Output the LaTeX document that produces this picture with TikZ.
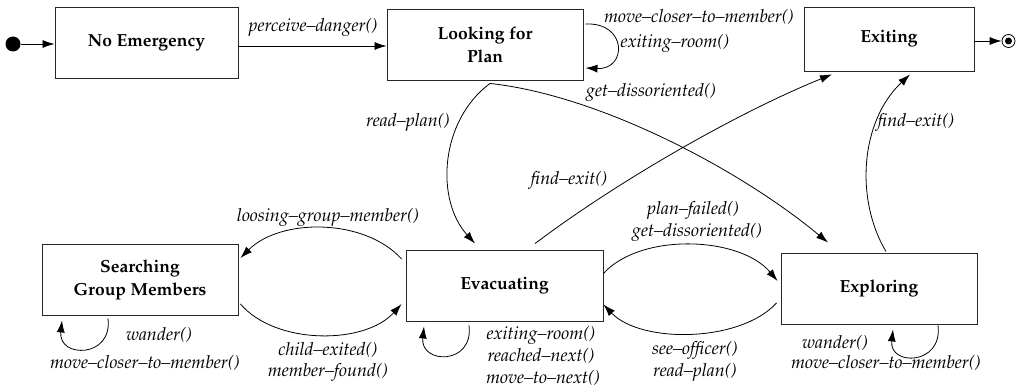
\documentclass[tikz,border=0pt]{standalone}
\usepackage[T1]{fontenc}
\usepackage{mathpazo}
\usetikzlibrary{arrows.meta}
\begin{document}
\begin{tikzpicture}[x=1pt,y=-1pt,
  state/.style={draw=black!85, line width=0.9pt, align=center, inner sep=0pt,
    font=\bfseries\fontsize{17.5}{23}\selectfont},
  lbl/.style={font=\itshape\fontsize{18}{22}\selectfont, inner sep=0pt},
  arr/.style={-{Latex[length=12pt,width=8pt]}, line width=0.8pt},
  ln/.style={line width=0.8pt}]
\useasboundingbox (0,0) rectangle (1016,390);
% states
\node[state, minimum width=183, minimum height=71] (ne) at (146.5,42.5) {No Emergency};
\node[state, minimum width=196, minimum height=71] (lp) at (485,44.5) {Looking for\\Plan};
\node[state, minimum width=170, minimum height=64] (ex) at (889,39) {Exiting};
\node[state, minimum width=196, minimum height=71] (sg) at (140,279.5) {Searching\\Group Members};
\node[state, minimum width=197, minimum height=71] (ev) at (504.5,285.5) {Evacuating};
\node[state, minimum width=196, minimum height=71] (xp) at (879,288.5) {Exploring};
% initial and final
\node[circle, fill, minimum size=15, inner sep=0pt] (init) at (13,44) {};
\node[circle, draw, line width=0.8pt, minimum size=13, inner sep=0pt] (fin) at (1008.5,41) {};
\node[circle, fill, minimum size=7, inner sep=0pt] (fin2) at (fin) {};
\draw[arr] (init) -- (ne.west |- init);
\draw[arr] (ex.east |- fin) -- (fin.west);
% top
\draw[arr] (ne.east |- 0,46) -- (lp.west |- 0,46);
\node[lbl] (l1) at (313,27) {perceive--danger()};
\draw[arr] ([shift={(2,-20.5)}]lp.east) .. controls +(42,-2) and +(42,2) .. ([shift={(2,23.5)}]lp.east);
\node[lbl] (l2) at (699,17) {move--closer--to--member()};
\node[lbl] (l3) at (675,43) {exiting--room()};
% read-plan
\draw[arr] ([shift={(5,3)}]lp.south) .. controls +(-50,37) and +(-40,-44) .. ([shift={(-29.5,-6)}]ev.north);
\node[lbl] (l4) at (408,122) {read--plan()};
% get-dissoriented
\draw[arr] ([shift={(5,3)}]lp.south) .. controls +(110,12) and +(-88,-73) .. ([shift={(-51,-10)}]xp.north);
\node[lbl] (l5) at (651,92) {get--dissoriented()};
% find-exit evac
\draw[arr] ([shift={(30.5,-6)}]ev.north) .. controls +(85,-64) and +(-92,37) .. ([shift={(-57,3)}]ex.south);
\node[lbl] (l6) at (569,180) {find--exit()};
% find-exit exploring
\draw[arr] ([shift={(7,-1)}]xp.north) .. controls +(-31,-52) and +(-50,47) .. ([shift={(21,3)}]ex.south);
\node[lbl] (l7) at (916,122) {find--exit()};
% loosing
\draw[arr] ([shift={(-4,-26.5)}]ev.west) .. controls +(-37,-41) and +(40,-40) .. ([shift={(2,-21.5)}]sg.east);
\node[lbl] (l8) at (328,217) {loosing--group--member()};
% child-exited
\draw[arr] ([shift={(2,24.5)}]sg.east) .. controls +(35,41) and +(-37,41) .. ([shift={(-4,18.5)}]ev.west);
\node[lbl] (l9) at (328,350) {child--exited()};
\node[lbl] (l10) at (328,372) {member--found()};
% plan-failed
\draw[arr] ([shift={(0,-12)}]ev.east) .. controls +(37,-41) and +(-38,-45) .. ([shift={(-3,-7.5)}]xp.west);
\node[lbl] (l11) at (693,210) {plan--failed()};
\node[lbl] (l12) at (697,232) {get--dissoriented()};
% see-officer
\draw[arr] ([shift={(-4,14.5)}]xp.west) .. controls +(-37,40) and +(37,39) .. ([shift={(0,19)}]ev.east);
\node[lbl] (l13) at (695,350) {see--officer()};
\node[lbl] (l14) at (695,372) {read--plan()};
% self loops bottom
\draw[arr] ([shift={(-32,3)}]sg.south) .. controls +(5,40) and +(-4,38) .. ([shift={(-78,5)}]sg.south);
\node[lbl] (l15) at (159,335) {wander()};
\node[lbl] (l16) at (145,363) {move--closer--to--member()};
\draw[arr] ([shift={(-35.5,4)}]ev.south) .. controls +(5,40) and +(-4,38) .. ([shift={(-80.5,5)}]ev.south);
\node[lbl] (l17) at (541,335) {exiting--room()};
\node[lbl] (l18) at (541,356) {reached--next()};
\node[lbl] (l19) at (543,378) {move--to--next()};
\draw[arr] ([shift={(59,1)}]xp.south) .. controls +(5,40) and +(-4,37) .. ([shift={(14,5)}]xp.south);
\node[lbl] (l20) at (835,343) {wander()};
\node[lbl] (l21) at (886,363) {move--closer--to--member()};
\end{tikzpicture}
\end{document}
